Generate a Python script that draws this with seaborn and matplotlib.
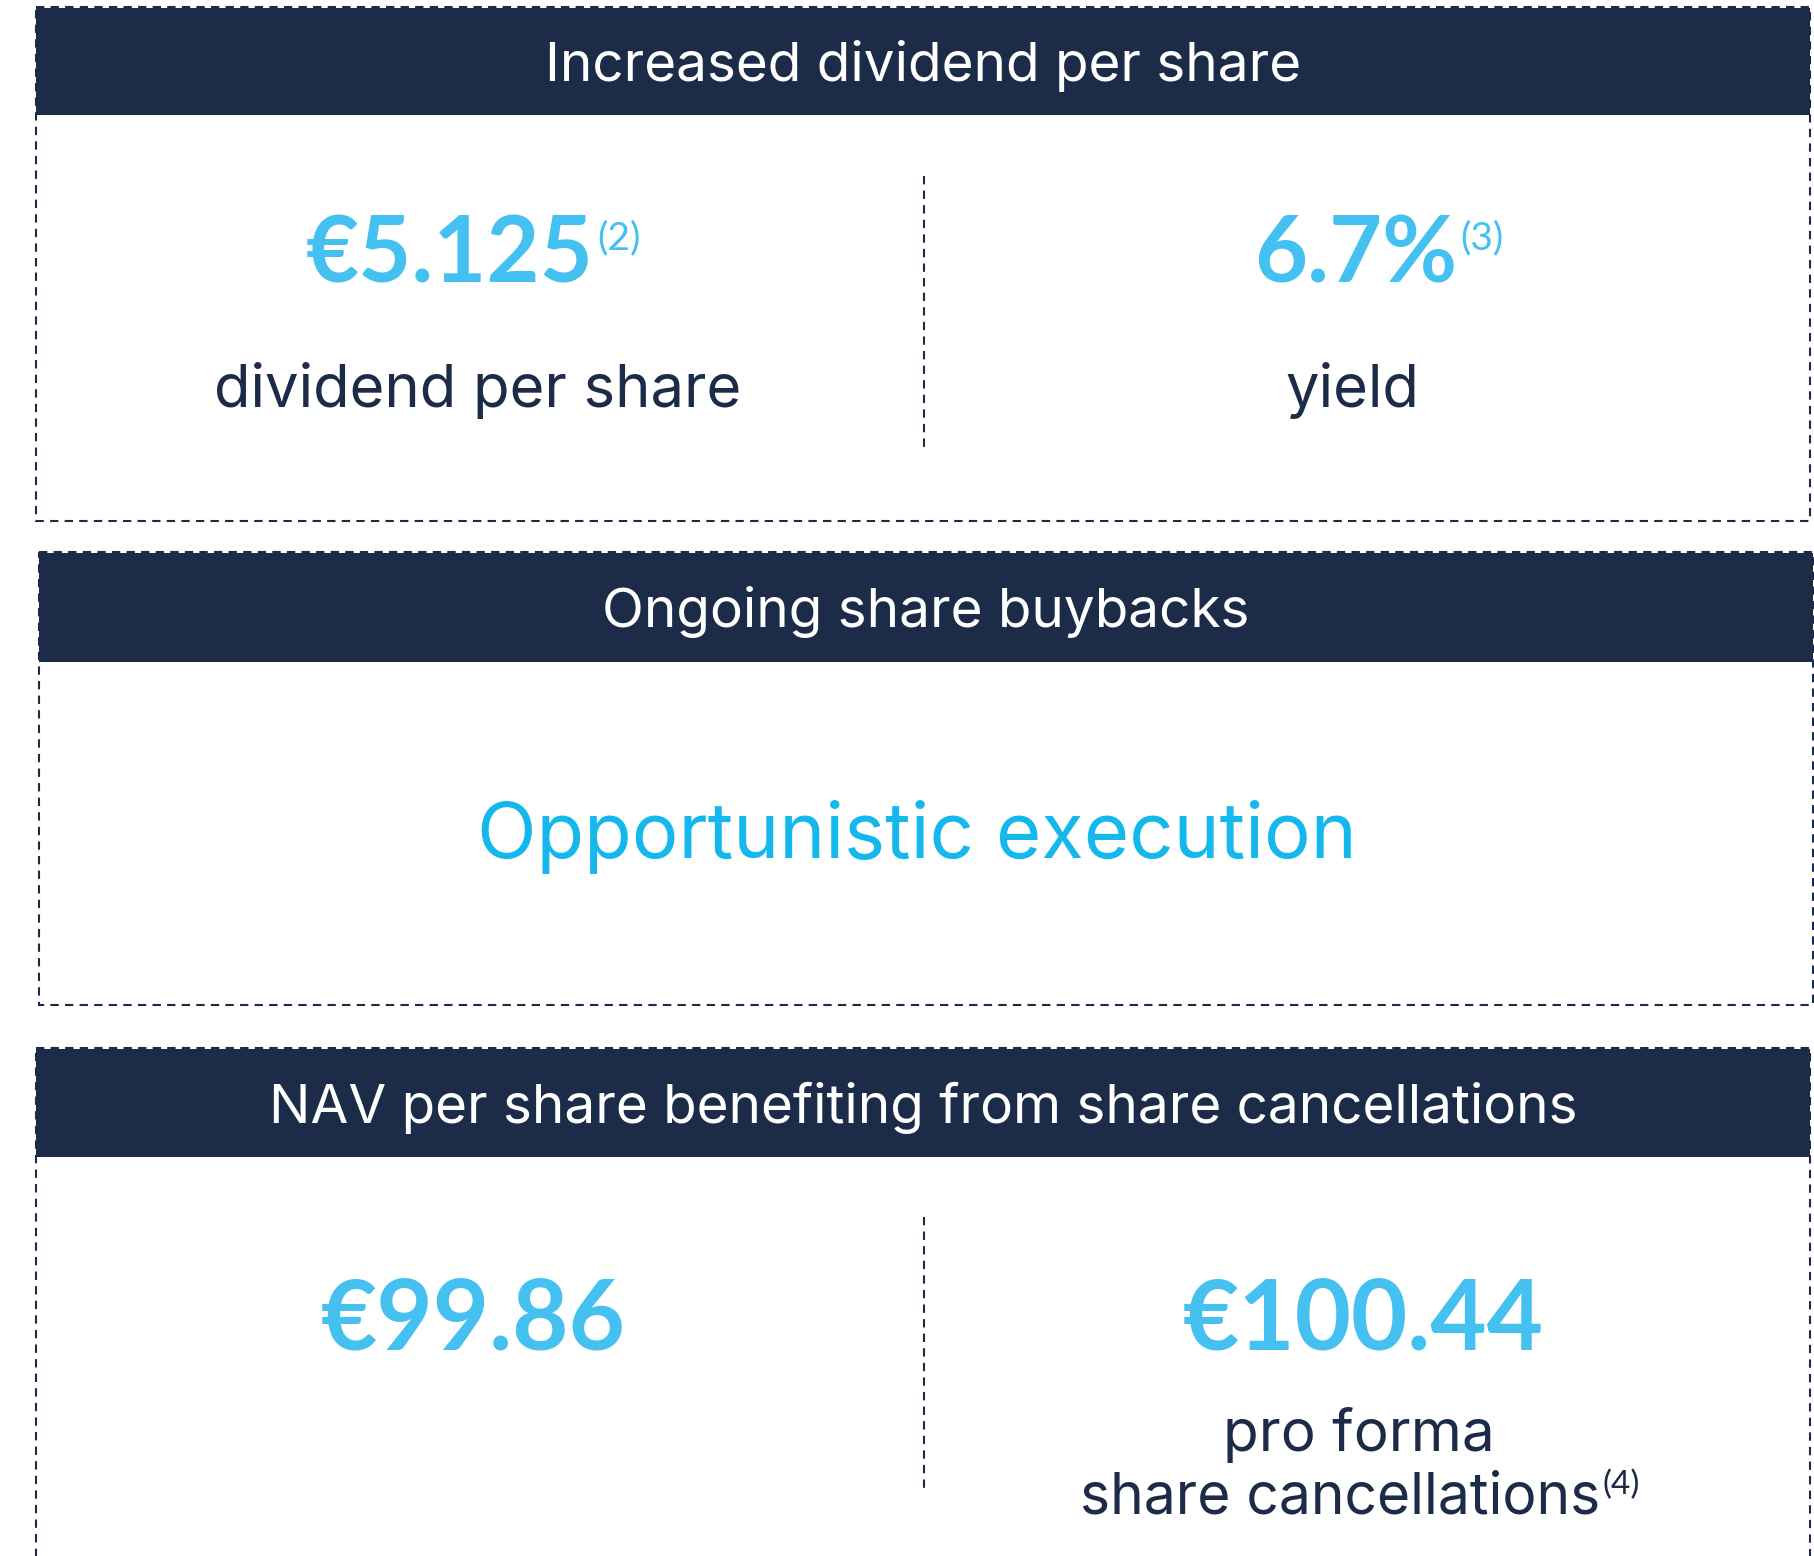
import matplotlib
matplotlib.use("Agg")
import matplotlib.pyplot as plt
import seaborn as sns
from matplotlib.patches import Rectangle

# panel content
headers = ["Increased dividend per share", "Ongoing share buybacks",
           "NAV per share benefiting from share cancellations"]
div_values = ["€5.125", "6.7%"]
div_notes = ["(2)", "(3)"]
div_labels = ["dividend per share", "yield"]
buyback_text = "Opportunistic execution"
nav_values = ["€99.86", "€100.44"]
nav_label_lines = ["pro forma", "share cancellations"]
nav_note = "(4)"

NAVY = "#1C2B47"
BLUE = "#44C1F1"
BLUE2 = "#14B8EC"
TXT = ["Inter", "DejaVu Sans"]
NUM = ["Lato", "DejaVu Sans"]

sns.set_theme(style="white")
plt.rcParams["font.family"] = TXT

W, H = 1815, 1556
fig = plt.figure(figsize=(W / 100, H / 100), dpi=100)
ax = fig.add_axes([0, 0, 1, 1])
ax.set_xlim(0, W)
ax.set_ylim(H, 0)
ax.axis("off")
renderer = fig.canvas.get_renderer()

# boxes: (left, top, right, bottom, header bottom)
boxes = [(36, 7, 1810, 521, 115),
         (39, 552, 1813, 1005, 662),
         (36, 1048, 1810, 1620, 1157)]
dash = (0, (4, 3))
for (l, t, r, b, hb), title in zip(boxes, headers):
    ax.add_patch(Rectangle((l, t + 1), r - l, hb - t - 1, facecolor=NAVY, edgecolor="none"))
    ax.add_patch(Rectangle((l, t), r - l, b - t, fill=False, edgecolor=NAVY,
                           lw=1.5, ls=dash))
    mid = (t + hb) / 2
    ax.text((l + r) / 2, mid + 20, title, color="white", fontsize=39.5,
            ha="center", va="baseline")

# vertical dividers
for y0, y1 in [(176, 449), (1217, 1490)]:
    ax.plot([924, 924], [y0, y1], color=NAVY, lw=1.5, ls=dash)


def value_with_note(xc, y, value, note, note_top):
    t = ax.text(xc, y, value, color=BLUE, fontsize=66, fontweight="bold",
                family=NUM, ha="center", va="baseline")
    bb = t.get_window_extent(renderer)
    ax.text(bb.x1 + 3, note_top, note, color=BLUE, fontsize=28, family=NUM,
            ha="left", va="top")


# dividend panel
value_with_note(450, 282, div_values[0], div_notes[0], 220)
value_with_note(1356, 282, div_values[1], div_notes[1], 220)
ax.text(478, 407, div_labels[0], color=NAVY, fontsize=43, ha="center", va="baseline")
ax.text(1352, 407, div_labels[1], color=NAVY, fontsize=43, ha="center", va="baseline")

# buyback panel
ax.text(917, 858, buyback_text, color=BLUE2, fontsize=56, ha="center", va="baseline")

# NAV panel
ax.text(473, 1349, nav_values[0], color=BLUE, fontsize=70, fontweight="bold",
        family=NUM, ha="center", va="baseline")
ax.text(1363, 1349, nav_values[1], color=BLUE, fontsize=70, fontweight="bold",
        family=NUM, ha="center", va="baseline")
ax.text(1359, 1451, nav_label_lines[0], color=NAVY, fontsize=42, ha="center", va="baseline")
n = ax.text(0, 1470, nav_note, color=NAVY, fontsize=24, family=NUM, ha="left", va="top")
nw = n.get_window_extent(renderer).width
m = ax.text(1359 - nw / 2, 1514, nav_label_lines[1], color=NAVY, fontsize=41,
            ha="center", va="baseline")
mb = m.get_window_extent(renderer)
n.set_x(mb.x1 + 2)

fig.savefig("out.png", dpi=100)
